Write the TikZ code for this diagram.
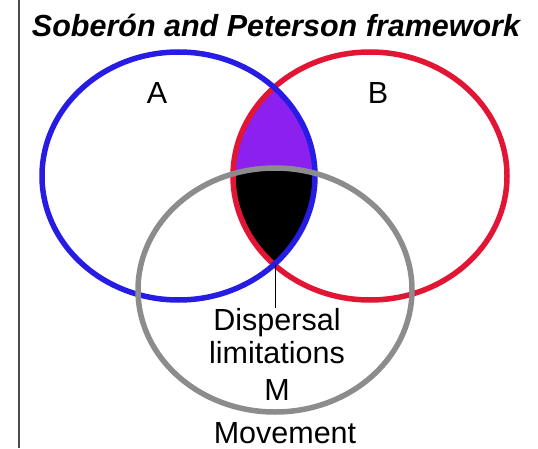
\documentclass[tikz,border=0pt]{standalone}
\usepackage{fontspec}
\setmainfont{Liberation Sans}
\usetikzlibrary{positioning,calc}

\definecolor{setA}{RGB}{38,28,228}
\definecolor{setB}{RGB}{226,22,52}
\definecolor{setM}{RGB}{140,140,140}
\definecolor{lens}{RGB}{140,32,238}

\begin{document}
\begin{tikzpicture}[x=1pt,y=1pt,
  lbl/.style={font=\fontsize{30.5}{36}\selectfont,anchor=base,inner sep=0pt},
  rim/.style={line width=5.5pt}
]
\useasboundingbox (0,0) rectangle (538,448);
\def\ellA{(178.5,272) ellipse [x radius=136.5,y radius=124]}
\def\ellB{(370,272) ellipse [x radius=137,y radius=124]}
\def\ellM{(275,158) ellipse [x radius=137,y radius=122]}
% overlaps
\begin{scope}
  \clip \ellA;
  \fill[lens] \ellB;
\end{scope}
\begin{scope}
  \clip \ellA;
  \clip \ellB;
  \fill[black] \ellM;
\end{scope}
% rims
\draw[rim,setB] \ellB;
\draw[rim,setA] \ellA;
\draw[rim,setM] \ellM;
\draw[line width=2pt,black!70] (19,0) -- (19,448);
% labels
\node[font=\fontsize{30.5}{36}\selectfont\bfseries\itshape,anchor=base,inner sep=0pt] (title) at (276,411) {Soberón and Peterson framework};
\node[lbl] (a) at (157,344) {A};
\node[lbl] (b) at (378,344) {B};
\node[lbl] (disp) at (277,118) {Dispersal};
\node[lbl] (lim) at (277,85) {limitations};
\node[lbl] (m) at (277,48) {M};
\node[lbl] (move) at (285,5) {Movement};
\coordinate (low) at (275.5,183.5);
\draw[line width=1.5pt] (low) -- (low |- disp.north);
\end{tikzpicture}
\end{document}
